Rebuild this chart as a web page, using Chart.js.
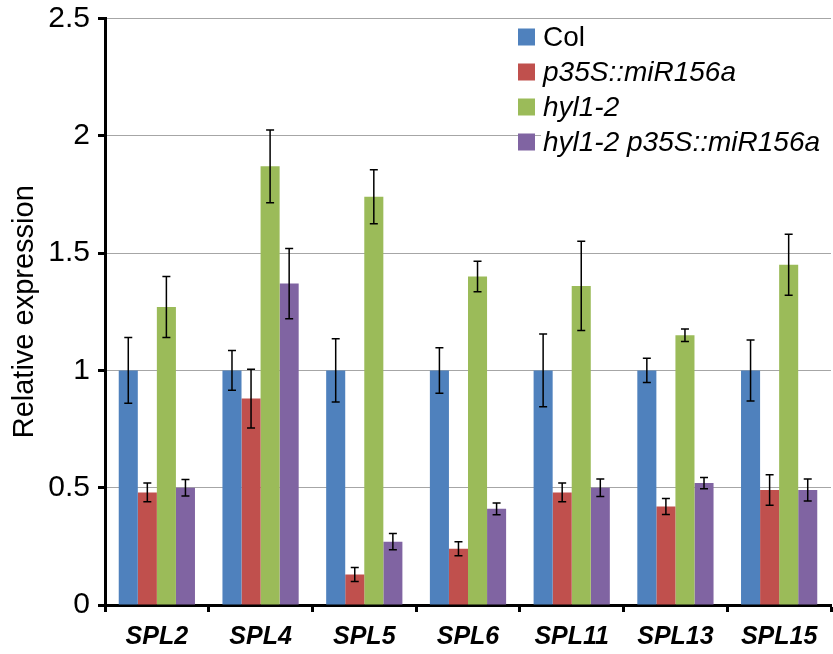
<!DOCTYPE html>
<html>
<head>
<meta charset="utf-8">
<script src="https://cdn.jsdelivr.net/npm/chart.js@4"></script>
<style>
  html, body { margin: 0; padding: 0; background: #fff; }
  #wrap { width: 833px; height: 654px; }
</style>
</head>
<body>
<div id="wrap"><canvas id="chart" width="833" height="654"></canvas></div>
<script>
// categories and series
const categories = ['SPL2', 'SPL4', 'SPL5', 'SPL6', 'SPL11', 'SPL13', 'SPL15'];
const seriesNames = ['Col', 'p35S::miR156a', 'hyl1-2', 'hyl1-2 p35S::miR156a'];
const seriesItalic = [false, true, true, true];
const seriesColors = ['#4F81BD', '#C0504D', '#9BBB59', '#8064A2'];

const colValues = [1, 1, 1, 1, 1, 1, 1];
const colErrors = [0.14, 0.085, 0.135, 0.097, 0.155, 0.052, 0.13];
const mirValues = [0.48, 0.88, 0.13, 0.24, 0.48, 0.42, 0.49];
const mirErrors = [0.04, 0.125, 0.03, 0.03, 0.04, 0.034, 0.065];
const hylValues = [1.27, 1.87, 1.74, 1.40, 1.36, 1.15, 1.45];
const hylErrors = [0.13, 0.155, 0.115, 0.065, 0.19, 0.027, 0.13];
const hylMirValues = [0.50, 1.37, 0.27, 0.41, 0.50, 0.52, 0.49];
const hylMirErrors = [0.035, 0.15, 0.035, 0.025, 0.037, 0.024, 0.047];

const yTickLabels = ['0', '0.5', '1', '1.5', '2', '2.5'];
const yTitle = 'Relative expression';

const allValues = [colValues, mirValues, hylValues, hylMirValues];
const allErrors = [colErrors, mirErrors, hylErrors, hylMirErrors];

const FONT = "'Liberation Sans', Arial, sans-serif";

// error bars on top of each bar
const errorBars = {
  id: 'errorBars',
  afterDatasetsDraw(chart) {
    const ctx = chart.ctx;
    const y = chart.scales.y;
    ctx.save();
    ctx.strokeStyle = '#000';
    ctx.lineWidth = 1.5;
    chart.data.datasets.forEach((ds, i) => {
      const meta = chart.getDatasetMeta(i);
      meta.data.forEach((bar, j) => {
        const v = ds.data[j], e = ds.errors[j];
        const top = y.getPixelForValue(v + e);
        const bot = y.getPixelForValue(v - e);
        ctx.beginPath();
        ctx.moveTo(bar.x, top); ctx.lineTo(bar.x, bot);
        ctx.moveTo(bar.x - 4, top); ctx.lineTo(bar.x + 4, top);
        ctx.moveTo(bar.x - 4, bot); ctx.lineTo(bar.x + 4, bot);
        ctx.stroke();
      });
    });
    ctx.restore();
  }
};

// legend with italic genotype names
const customLegend = {
  id: 'customLegend',
  afterDraw(chart) {
    const ctx = chart.ctx;
    const boxX = 518, textX = 543, y0 = 37, step = 35, box = 17;
    ctx.save();
    ctx.fillStyle = '#fff';
    ctx.fillRect(textX - 2, 22, chart.width - textX + 2, 138);
    ctx.textBaseline = 'middle';
    seriesNames.forEach((name, i) => {
      const cy = y0 + i * step;
      ctx.fillStyle = seriesColors[i];
      ctx.fillRect(boxX, cy - box / 2, box, box);
      ctx.fillStyle = '#000';
      ctx.font = (seriesItalic[i] ? 'italic ' : '') + '28px ' + FONT;
      ctx.fillText(name, textX, cy + 1);
    });
    ctx.restore();
  }
};

const datasets = seriesNames.map((name, i) => ({
  label: name,
  data: allValues[i],
  errors: allErrors[i],
  backgroundColor: seriesColors[i],
  borderWidth: 0
}));

new Chart(document.getElementById('chart'), {
  type: 'bar',
  data: { labels: categories, datasets: datasets },
  options: {
    responsive: false,
    animation: false,
    events: [],
    layout: { padding: { top: 18, right: 2, left: 0, bottom: 0 } },
    datasets: { bar: { categoryPercentage: 0.735, barPercentage: 1 } },
    plugins: { legend: { display: false }, tooltip: { enabled: false } },
    scales: {
      x: {
        afterFit: s => { s.height = 49; },
        offset: true,
        grid: {
          offset: true,
          drawOnChartArea: false,
          drawTicks: true,
          tickLength: 7,
          tickColor: '#000',
          tickWidth: 3
        },
        border: { color: '#000', width: 3 },
        ticks: {
          color: '#000',
          padding: 10,
          font: { family: FONT, size: 25, style: 'italic', weight: 'bold' }
        }
      },
      y: {
        min: 0,
        max: 2.5,
        afterFit: s => { s.width = 105; },
        afterBuildTicks: s => {
          s.ticks = yTickLabels.map(t => ({ value: parseFloat(t) }));
        },
        grid: {
          color: '#A6A6A6',
          lineWidth: 1,
          drawTicks: true,
          tickLength: 7,
          tickColor: '#000',
          tickWidth: 3
        },
        border: { color: '#000', width: 3 },
        ticks: {
          color: '#000',
          padding: 8,
          font: { family: FONT, size: 30, lineHeight: 0.7 },
          callback: (v, i) => yTickLabels[i]
        },
        title: {
          display: true,
          text: yTitle,
          color: '#000',
          padding: { top: 8, bottom: 0 },
          font: { family: FONT, size: 29, lineHeight: 1.2 }
        }
      }
    }
  },
  plugins: [errorBars, customLegend]
});
</script>
</body>
</html>
